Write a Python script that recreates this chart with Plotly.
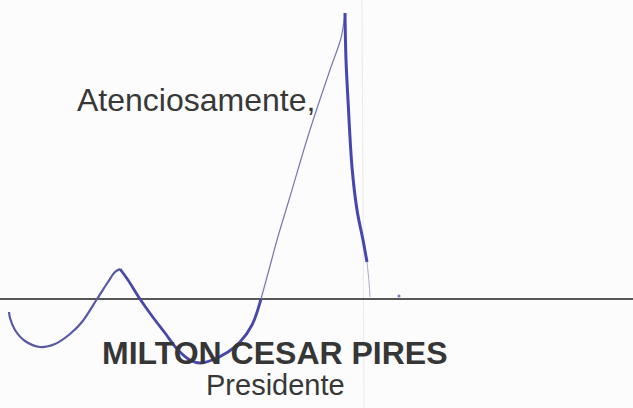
import plotly.graph_objects as go

# --- data (pixel-space coordinates read from the scanned page) ---
wave_up_x = [9, 10, 15, 25, 40, 55, 70, 82, 97, 108, 115, 120]
wave_up_y = [312, 318, 330, 341, 347, 344, 334, 322, 299, 282, 272, 269]

wave_down_x = [120, 128, 140, 152, 165, 178, 190, 200, 212, 228, 240, 252, 261]
wave_down_y = [269, 280, 299, 316, 333, 350, 360, 363, 360, 352, 342, 325, 299]

upstroke_x = [261, 270, 277, 289, 309, 331, 341, 345]
upstroke_y = [299, 266, 240, 200, 133, 67, 38, 13]

downstroke_x = [345, 346, 348, 352, 357, 363, 367]
downstroke_y = [13, 60, 100, 167, 210, 240, 262]

tail_x = [367, 369, 370]
tail_y = [262, 282, 297]

rule_x = [0, 633]
rule_y = [299, 299]

dot_x = [399]
dot_y = [296]

scan_x = [362, 364]
scan_y = [0, 408]

texts = ["Atenciosamente,", "MILTON CESAR PIRES", "Presidente"]
text_x = [75, 275, 275]
text_y = [100, 353, 385]

fig = go.Figure()

# faint scanner line
fig.add_trace(go.Scatter(x=scan_x, y=scan_y, mode="lines",
                         line=dict(color="rgba(200,200,200,0.35)", width=1), hoverinfo="skip"))
# signature rule line
fig.add_trace(go.Scatter(x=rule_x, y=rule_y, mode="lines",
                         line=dict(color="#202020", width=1.6), hoverinfo="skip"))
# signature strokes
fig.add_trace(go.Scatter(x=wave_up_x, y=wave_up_y, mode="lines", line_shape="spline",
                         line=dict(color="rgb(88,88,165)", width=2.2), hoverinfo="skip"))
fig.add_trace(go.Scatter(x=wave_down_x, y=wave_down_y, mode="lines", line_shape="spline",
                         line=dict(color="rgb(72,72,168)", width=2.8), hoverinfo="skip"))
fig.add_trace(go.Scatter(x=upstroke_x, y=upstroke_y, mode="lines", line_shape="spline",
                         line=dict(color="rgb(120,120,170)", width=1.2), hoverinfo="skip"))
fig.add_trace(go.Scatter(x=downstroke_x, y=downstroke_y, mode="lines", line_shape="spline",
                         line=dict(color="rgb(70,70,175)", width=3), hoverinfo="skip"))
fig.add_trace(go.Scatter(x=tail_x, y=tail_y, mode="lines", line_shape="spline",
                         line=dict(color="rgb(170,170,200)", width=1), hoverinfo="skip"))
fig.add_trace(go.Scatter(x=dot_x, y=dot_y, mode="markers",
                         marker=dict(color="rgb(120,120,180)", size=3), hoverinfo="skip"))

fig.add_annotation(x=text_x[0], y=text_y[0], text=texts[0], showarrow=False,
                   xanchor="left", yanchor="middle",
                   font=dict(family="Liberation Sans, Arial", size=32, color="#383838"))
fig.add_annotation(x=text_x[1], y=text_y[1], text="<b>" + texts[1] + "</b>", showarrow=False,
                   xanchor="center", yanchor="middle",
                   font=dict(family="Liberation Sans, Arial", size=32, color="#363636"))
fig.add_annotation(x=text_x[2], y=text_y[2], text=texts[2], showarrow=False,
                   xanchor="center", yanchor="middle",
                   font=dict(family="Liberation Sans, Arial", size=29, color="#383838"))

fig.update_layout(
    width=633, height=408,
    margin=dict(l=0, r=0, t=0, b=0),
    paper_bgcolor="#fcfcfc", plot_bgcolor="#fcfcfc",
    showlegend=False,
    xaxis=dict(range=[0, 633], visible=False, fixedrange=True),
    yaxis=dict(range=[408, 0], visible=False, fixedrange=True),
)

fig.write_html("out.html", config={"displayModeBar": False},
               post_script="document.body.style.margin='0';document.body.style.background='#fcfcfc';")
